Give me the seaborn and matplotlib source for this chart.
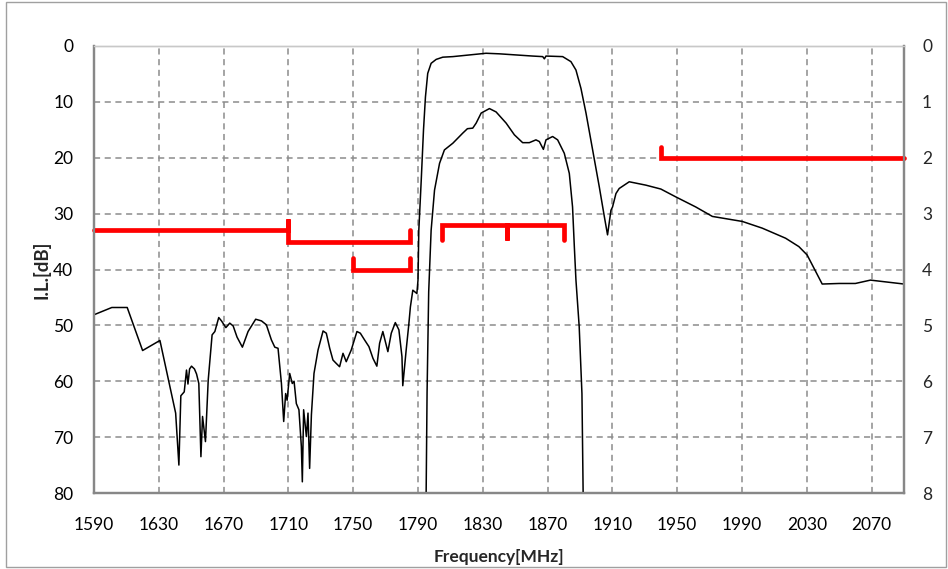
import matplotlib
matplotlib.use("Agg")
import matplotlib.pyplot as plt
import seaborn as sns
import pandas as pd
from matplotlib.patches import Rectangle

# ---------------- data ----------------
rej_freq = [1590, 1601, 1610.5, 1620, 1630.7, 1640.4, 1642.4, 1643.6, 1645.7, 1647.1, 1648, 1649,
            1650.2, 1652, 1653.3, 1654.7, 1656, 1657, 1658.8, 1660.5, 1662.9, 1664.6, 1667, 1668.7,
            1671.4, 1673.8, 1675.9, 1678.3, 1681.6, 1685.1, 1689.8, 1693.4, 1696.4, 1699.5, 1701.6,
            1703.6, 1705.7, 1707.1, 1708.3, 1709.2, 1710.8, 1712.4, 1713.5, 1714.9, 1716.5, 1718,
            1718.6, 1719.4, 1721.1, 1722.1, 1723.1, 1724.2, 1725.8, 1728.3, 1731.4, 1733.4, 1735.5,
            1737.5, 1739.5, 1741.6, 1743.7, 1745.7, 1748.8, 1752.3, 1754.4, 1757, 1759.7, 1762.2,
            1764.6, 1766.3, 1768.3, 1771.4, 1773.5, 1776, 1778.2, 1780.1, 1780.6, 1781.7, 1782.7,
            1784.3, 1785.3, 1786.8, 1789.3, 1790, 1790.5, 1791, 1792, 1793.4, 1794.6, 1796, 1798.1,
            1801.2, 1805.3, 1811.5, 1821.7, 1832, 1840.2, 1850.5, 1860.8, 1867, 1868, 1869, 1879.3,
            1884.4, 1887.5, 1890.6, 1893.7, 1897.8, 1901.9, 1905, 1907, 1909.1, 1910.1, 1912.2,
            1914.2, 1920.4, 1930.6, 1939.9, 1949.1, 1961.4, 1971.7, 1990.2, 2002.5, 2016.9, 2025.1,
            2030.2, 2039.5, 2050, 2060, 2069.3, 2090]
rej_db = [48.1, 46.8, 46.8, 54.5, 52.7, 65.7, 75.0, 62.6, 61.9, 58.0, 60.5, 57.8,
          57.3, 57.8, 58.7, 60.4, 73.5, 66.3, 70.8, 59.8, 51.7, 51.1, 48.6, 49.2,
          50.4, 49.6, 50.1, 52.1, 53.9, 51.1, 48.9, 49.2, 49.9, 52.6, 53.9,
          54.1, 60.4, 67.2, 62.2, 63.4, 58.6, 60.4, 60.0, 64.0, 65.1, 71.7,
          78.0, 65.1, 69.9, 65.7, 75.6, 66.0, 58.6, 54.4, 51.0, 51.4, 54.1,
          56.2, 56.8, 57.4, 55.0, 56.5, 54.4, 51.1, 51.4, 52.6, 53.8, 55.9,
          57.3, 53.2, 51.1, 54.7, 51.4, 49.5, 50.8, 55.6, 60.8, 57.4, 54.4,
          49.9, 46.7, 43.7, 44.3, 41.9, 33.0, 30.0, 24.0, 15.0, 9.1, 4.9, 3.1,
          2.4, 2.0, 1.9, 1.6, 1.3, 1.4, 1.6, 1.8, 1.9, 2.3, 1.8, 1.9,
          2.8, 4.3, 7.6, 12.0, 18.6, 25.2, 30.5, 33.8, 29.4, 28.8, 26.4,
          25.5, 24.3, 24.9, 25.6, 27.0, 28.8, 30.5, 31.4, 32.6, 34.4, 35.9,
          37.4, 42.6, 42.5, 42.5, 41.9, 42.6]

pb_freq = [1794.9, 1795.6, 1796.6, 1798.1, 1800.2, 1803.3, 1806.3, 1811.5, 1817.6, 1820.5, 1823.8,
           1825.9, 1829, 1834.1, 1838.2, 1844.4, 1849.5, 1854.6, 1858.7, 1862.8, 1864.9, 1867.4,
           1869, 1873.1, 1876.2, 1880.3, 1883.4, 1885.4, 1886.5, 1887.5, 1889.5, 1891.2, 1892.1]
pb_il = [8.4, 6.2, 4.4, 3.3, 2.58, 2.1, 1.86, 1.74, 1.56, 1.48, 1.47,
         1.38, 1.2, 1.12, 1.18, 1.38, 1.59, 1.73, 1.73, 1.68, 1.71, 1.85,
         1.68, 1.62, 1.68, 1.92, 2.28, 2.88, 3.59, 4.19, 5.02, 6.22, 8.4]

# red specification masks (left axis, dB)
spec1_f = [1590, 1710, 1710, 1710, 1785, 1785]
spec1_db = [33, 33, 31, 35, 35, 33]
spec2_f = [1750, 1750, 1785, 1785]
spec2_db = [38, 40, 40, 38]
spec4_f = [1940, 1940, 2090]
spec4_db = [18, 20, 20]
# passband spec (right axis)
spec3_f = [1805, 1805, 1845, 1845, 1845, 1880, 1880]
spec3_il = [3.47, 3.2, 3.2, 3.47, 3.2, 3.2, 3.47]

x_ticks = [1590, 1630, 1670, 1710, 1750, 1790, 1830, 1870, 1910, 1950, 1990, 2030, 2070]
yl_ticks = [0, 10, 20, 30, 40, 50, 60, 70, 80]
yr_ticks = [0, 1, 2, 3, 4, 5, 6, 7, 8]

# ---------------- plot ----------------
sns.set_style("white")
plt.rcParams['font.family'] = ['Lato', 'DejaVu Sans']

fig = plt.figure(figsize=(9.48, 5.69), dpi=100)
ax = fig.add_axes([94/948, 1-493/569, (904-94)/948, (493-46)/569])
ax2 = ax.twinx()

rej = pd.DataFrame({"f": rej_freq, "db": rej_db})
pb = pd.DataFrame({"f": pb_freq, "il": pb_il})

sns.lineplot(data=rej, x="f", y="db", ax=ax, color="black", lw=1.1, sort=False, estimator=None)
sns.lineplot(data=pb, x="f", y="il", ax=ax2, color="black", lw=1.1, sort=False, estimator=None)

red = "#ff0000"
for fx, fy in [(spec1_f, spec1_db), (spec2_f, spec2_db), (spec4_f, spec4_db)]:
    ax.plot(fx, fy, color=red, lw=3.4, solid_capstyle="round", solid_joinstyle="miter", clip_on=False, zorder=5)
ax2.plot(spec3_f, spec3_il, color=red, lw=3.4, solid_capstyle="round", solid_joinstyle="miter", zorder=5)

ax.set_xlim(1590, 2090)
ax.set_ylim(80, 0)
ax2.set_ylim(8, 0)
ax.set_xticks(x_ticks)
ax.set_yticks(yl_ticks)
ax2.set_yticks(yr_ticks)

ax.grid(True, color="#8c8c8c", ls=(0, (4, 3)), lw=1.1)
ax.set_axisbelow(True)

ax.tick_params(axis="both", length=0, labelsize=12.5, colors="black")
ax.tick_params(axis="x", pad=17)
ax.tick_params(axis="y", pad=15)
ax2.tick_params(axis="y", length=0, labelsize=12.5, pad=13)

ax.set_xlabel("Frequency[MHz]", fontsize=12.5, fontweight="bold", labelpad=12)
ax.set_ylabel("I.L.[dB]", fontsize=13.5, fontweight="bold")
ax.yaxis.set_label_coords(-0.054, 0.5)
ax2.set_ylabel("")

for a in (ax, ax2):
    for s in ("left", "bottom", "right"):
        a.spines[s].set_color("#878787")
        a.spines[s].set_linewidth(1.6)
    a.spines["top"].set_color("#c8c8c8")
    a.spines["top"].set_linewidth(1.0)

fig.patches.append(Rectangle((6/948, 2/569), 940/948, 565/569, transform=fig.transFigure,
                             fill=False, edgecolor="#a0a0a0", lw=1.0))

fig.savefig("out.png", dpi=100)
